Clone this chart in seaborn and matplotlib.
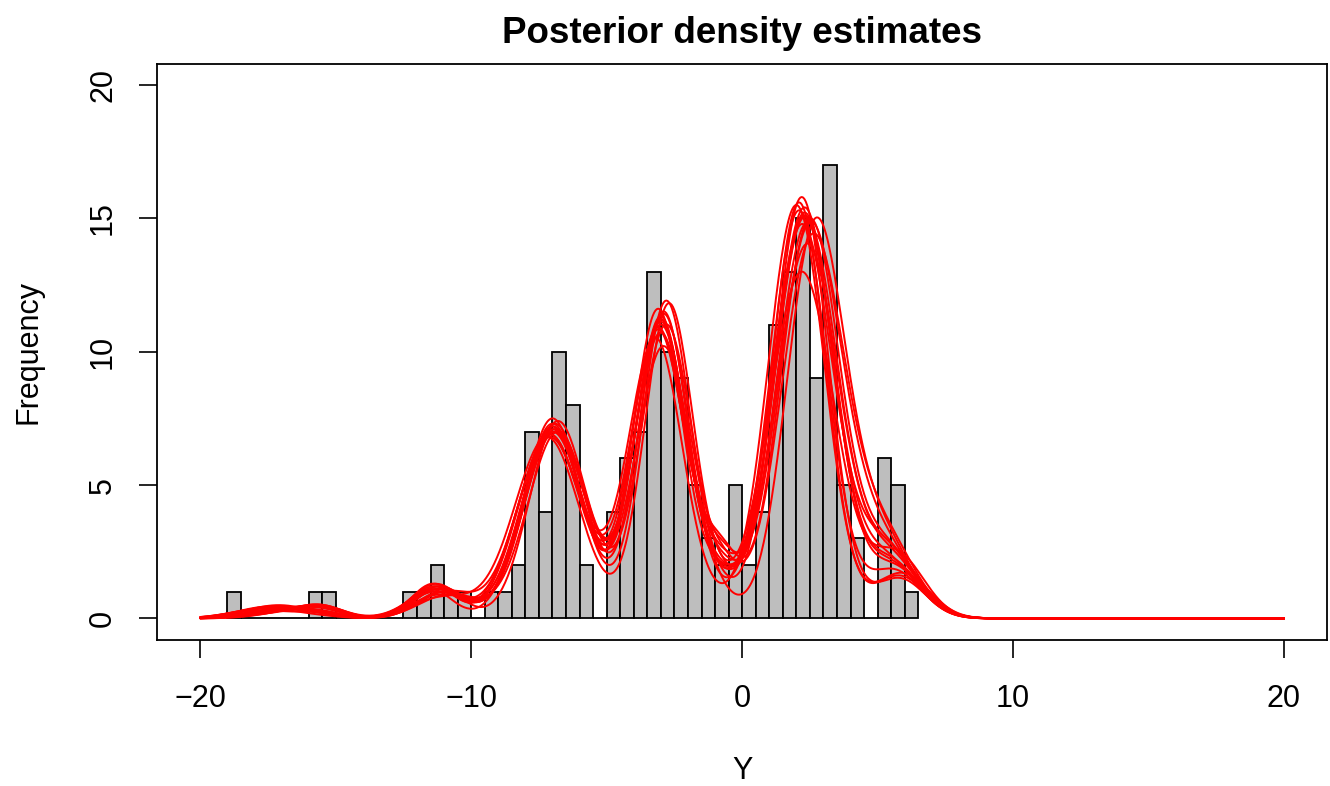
import numpy as np
import pandas as pd
import matplotlib
matplotlib.use('Agg')
import matplotlib.pyplot as plt
import seaborn as sns


# Histograma: bins de largura 0.5 de -19 a 6.5
bin_start, bin_end, bin_width = -19.0, 6.5, 0.5
counts = [1, 0, 0, 0, 0, 0, 1, 1, 0, 0, 0, 0, 0,
          1, 1, 2, 1, 1, 0, 1, 1,
          2, 7, 4, 10, 8, 2, 0,
          4, 6, 7, 13, 10, 9, 5, 3, 2, 5,
          2, 4, 11, 13, 15, 9, 17, 5, 3, 0, 6, 5, 1]

# Componentes das densidades a posteriori (uma entrada por amostra), em escala de frequencia
tail_a_height = [0.35, 0.45, 0.30, 0.40, 0.25, 0.50, 0.30, 0.35, 0.42, 0.28, 0.38, 0.20, 0.33, 0.45, 0.30, 0.36]
tail_a_center = [-17.0, -17.3, -16.8, -17.5, -16.6, -17.1, -17.8, -16.9, -17.2, -16.4, -17.6, -17.0, -16.7, -17.4, -16.9, -17.1]
tail_b_height = [0.15, 0.05, 0.30, 0.10, 0.35, 0.00, 0.20, 0.25, 0.10, 0.30, 0.05, 0.40, 0.20, 0.10, 0.25, 0.15]

p1_height = [1.1, 1.0, 1.2, 0.9, 1.3, 1.0, 1.1, 1.2, 0.8, 1.1, 1.0, 1.3, 1.2, 0.9, 1.1, 1.0]
p1_center = [-11.2, -11.0, -11.4, -11.1, -11.3, -10.9, -11.5, -11.2, -11.0, -11.3, -11.1, -11.4, -11.2, -10.8, -11.2, -11.3]
p1_width = [0.9, 1.0, 0.8, 1.1, 0.9, 1.0, 0.8, 0.9, 1.2, 1.0, 0.9, 0.8, 1.0, 1.1, 0.9, 1.0]

p2_height = [7.0, 7.3, 6.8, 7.1, 7.4, 6.9, 7.2, 7.0, 6.8, 7.3, 7.1, 6.9, 7.5, 7.0, 7.2, 6.9]
p2_center = [-7.0, -6.9, -7.1, -7.0, -6.8, -7.1, -7.0, -6.9, -7.2, -7.0, -6.9, -7.1, -7.0, -6.8, -7.0, -7.1]
p2_width = [1.15, 1.10, 1.20, 1.12, 1.05, 1.18, 1.10, 1.15, 1.20, 1.08, 1.14, 1.16, 1.05, 1.12, 1.10, 1.18]

p3_height = [11.2, 11.5, 10.8, 11.9, 11.0, 10.5, 11.4, 11.1, 11.8, 10.9, 11.3, 10.2, 11.6, 11.0, 11.2, 10.7]
p3_center = [-3.0, -2.9, -3.1, -2.8, -3.0, -3.2, -2.9, -3.0, -2.7, -3.1, -3.0, -2.9, -3.1, -2.8, -3.0, -3.0]
p3_width = [0.95, 0.92, 1.00, 0.90, 0.97, 1.00, 0.93, 0.95, 0.90, 0.98, 0.94, 1.02, 0.92, 0.96, 0.95, 0.99]

mid_height = [1.2, 0.5, 2.0, 0.8, 1.5, 0.3, 1.8, 1.0, 0.6, 2.3, 1.1, 0.4, 1.4, 0.9, 1.7, 0.7]

p4_height = [15.0, 15.3, 14.6, 15.8, 14.8, 15.5, 14.2, 15.1, 13.0, 14.9, 15.4, 14.5, 15.6, 14.0, 15.2, 14.7]
p4_center = [2.3, 2.1, 2.5, 2.2, 2.4, 2.0, 2.6, 2.3, 2.2, 2.5, 2.3, 2.7, 2.1, 2.4, 2.3, 2.2]
p4_width = [1.10, 1.05, 1.15, 1.00, 1.12, 1.05, 1.15, 1.10, 1.20, 1.08, 1.10, 1.05, 1.00, 1.15, 1.10, 1.12]

p5_height = [2.2, 1.8, 2.8, 1.5, 2.5, 1.7, 3.0, 2.0, 2.4, 2.6, 1.9, 3.2, 1.6, 2.3, 2.1, 2.7]
p5_center = [5.3, 5.6, 5.1, 5.8, 5.4, 5.9, 5.2, 5.5, 5.7, 5.3, 5.6, 5.0, 5.8, 5.4, 5.5, 5.2]
p5_width = [1.10, 1.00, 1.20, 0.95, 1.10, 1.00, 1.15, 1.05, 1.00, 1.10, 1.05, 1.20, 0.95, 1.10, 1.05, 1.15]


def bump(x, h, c, w):
    return h * np.exp(-0.5 * ((x - c) / w) ** 2)


grid = np.linspace(-20, 20, 801)
rows = []
for i in range(len(p2_height)):
    y = (bump(grid, tail_a_height[i], tail_a_center[i], 1.2)
         + bump(grid, tail_b_height[i], -15.5, 0.8)
         + bump(grid, p1_height[i], p1_center[i], p1_width[i])
         + bump(grid, p2_height[i], p2_center[i], p2_width[i])
         + bump(grid, p3_height[i], p3_center[i], p3_width[i])
         + bump(grid, mid_height[i], -0.8, 0.7)
         + bump(grid, p4_height[i], p4_center[i], p4_width[i])
         + bump(grid, p5_height[i], p5_center[i], p5_width[i]))
    rows.append(pd.DataFrame({'Y': grid, 'freq': y, 'draw': i}))
curves = pd.concat(rows, ignore_index=True)

mids = bin_start + bin_width * (np.arange(len(counts)) + 0.5)
hist_df = pd.DataFrame({'mid': mids, 'n': np.asarray(counts, dtype=float)})

sns.set_theme(style='ticks')
plt.rcParams['font.family'] = ['Liberation Sans', 'DejaVu Sans']
plt.rcParams['text.color'] = 'black'
plt.rcParams['axes.labelcolor'] = 'black'

fig = plt.figure(figsize=(13.3, 7.86), dpi=100)
ax = fig.add_axes([0.118, 0.186, 0.880, 0.733])

sns.histplot(data=hist_df, x='mid', weights='n', binwidth=bin_width,
             binrange=(bin_start, bin_end), color='#BEBEBE',
             edgecolor='black', linewidth=1.3, alpha=1, ax=ax)
sns.lineplot(data=curves, x='Y', y='freq', units='draw', estimator=None,
             color='red', linewidth=1.4, ax=ax)

ax.set_xlim(-21.6, 21.6)
ax.set_ylim(-0.8, 20.8)
ax.set_xticks([-20, -10, 0, 10, 20])
ax.set_yticks([0, 5, 10, 15, 20])
ax.tick_params(axis='both', direction='out', length=13, width=1.2, color='black',
               labelsize=22, labelcolor='black')
ax.tick_params(axis='x', pad=19)
ax.tick_params(axis='y', pad=15)
plt.setp(ax.get_yticklabels(), rotation=90, va='center')
for s in ax.spines.values():
    s.set_color('black')
    s.set_linewidth(1.3)

ax.set_title('Posterior density estimates', fontsize=26.5, fontweight='bold',
             pad=15, color='black')
ax.set_xlabel('Y', fontsize=22, labelpad=30)
ax.set_ylabel('Frequency', fontsize=22, labelpad=32)

fig.savefig('out.png', dpi=100, facecolor='white')
